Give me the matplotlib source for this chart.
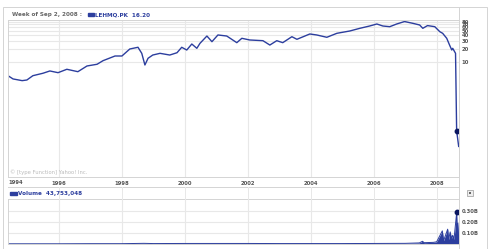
import matplotlib
matplotlib.use("Agg")
import matplotlib.pyplot as plt
from matplotlib.lines import Line2D
from matplotlib.patches import Rectangle
import matplotlib.ticker as mticker

W, H = 490, 249

# price history (decimal year, close)
px_year = [1994.38, 1994.54, 1994.83, 1994.98, 1995.17, 1995.49, 1995.71, 1995.97,
           1996.25, 1996.60, 1996.89, 1997.21, 1997.40, 1997.78, 1998.00, 1998.25,
           1998.51, 1998.63, 1998.73, 1998.83, 1998.98, 1999.21, 1999.52, 1999.75,
           1999.90, 2000.06, 2000.22, 2000.38, 2000.48, 2000.70, 2000.86, 2001.05,
           2001.33, 2001.65, 2001.81, 2002.06, 2002.48, 2002.70, 2002.92, 2003.11,
           2003.40, 2003.56, 2003.97, 2004.19, 2004.51, 2004.83, 2005.24, 2005.56,
           2005.87, 2006.10, 2006.29, 2006.51, 2006.73, 2006.98, 2007.24, 2007.46,
           2007.56, 2007.71, 2007.94, 2008.10, 2008.19, 2008.32, 2008.41, 2008.48,
           2008.51, 2008.60, 2008.635, 2008.70]
px_close = [4.94, 4.18, 3.83, 3.96, 4.94, 5.60, 6.30, 5.77,
            6.87, 6.07, 8.14, 8.89, 10.7, 13.6, 13.6, 19.5,
            21.3, 15.6, 8.57, 12.1, 14.3, 15.6, 14.3, 16.1,
            21.3, 18.5, 25.2, 20.2, 26.1, 38.0, 28.4, 40.1,
            38.0, 27.0, 33.8, 31.0, 29.9, 23.9, 29.9, 27.0,
            36.7, 32.1, 42.2, 40.1, 35.6, 43.7, 49.2, 56.5,
            63.6, 70.5, 63.6, 61.4, 70.5, 80.0, 73.1, 67.0,
            56.5, 65.0, 61.4, 47.5, 43.7, 33.8, 23.9, 18.5,
            20.2, 15.6, 0.29, 0.13]

# volume (decimal year, millions of shares)
vol_year = [1994.38, 1995.0, 1996.0, 1997.0, 1998.0, 1998.7, 1999.0, 2000.0,
            2001.0, 2002.0, 2003.0, 2004.0, 2005.0, 2006.0, 2007.0, 2007.45,
            2007.55, 2007.6, 2007.9, 2008.0, 2008.18, 2008.22, 2008.35, 2008.38,
            2008.43, 2008.47, 2008.51, 2008.55, 2008.635, 2008.66, 2008.675, 2008.70]
vol_mil = [2, 2, 2, 3, 3, 6, 4, 5,
           5, 5, 4, 4, 4, 5, 6, 10,
           25, 12, 15, 20, 120, 30, 135, 40,
           110, 50, 80, 40, 285, 60, 190, 44]

price_ticks = [10, 20, 30, 40, 50, 60, 70, 80]
vol_ticks = [0.1e9, 0.2e9, 0.3e9]
vol_labels = ["0.10B", "0.20B", "0.30B"]
years = [1996, 1998, 2000, 2002, 2004, 2006, 2008]

blue = "#2c3e9e"
navy = "#0a1660"
grid = "#e8e8e8"
edge = "#d4d4d4"
txt = "#555555"
tick_fs = 3.8
head_fs = 4.1


def rect(l, t, r, b):
    return [l / W, 1 - b / H, (r - l) / W, (b - t) / H]


def hline(y, x0, x1, c=edge):
    fig.add_artist(Line2D([x0 / W, x1 / W], [1 - y / H, 1 - y / H], color=c, lw=0.7))


def vline(x, y0, y1, c=edge):
    fig.add_artist(Line2D([x / W, x / W], [1 - y0 / H, 1 - y1 / H], color=c, lw=0.7))


fig = plt.figure(figsize=(W / 100, H / 100), dpi=100)
fig.patch.set_facecolor("white")

x0, x1 = 1994.38, 2008.71

# main price panel
ax = fig.add_axes(rect(8, 20, 459, 177))
ax.plot(px_year, px_close, color=blue, lw=1.0)
ax.plot([2008.635], [0.29], "o", color=navy, ms=3.2)
ax.set_yscale("log")
ax.set_ylim(0.027, 86.6)
ax.set_xlim(x0, x1)
ax.yaxis.set_major_locator(mticker.FixedLocator(price_ticks))
ax.yaxis.set_minor_locator(mticker.NullLocator())
ax.yaxis.set_major_formatter(mticker.FixedFormatter([str(v) for v in price_ticks]))
ax.yaxis.tick_right()
ax.set_xticks(years)
ax.set_xticklabels([str(y) for y in years])
ax.tick_params(axis="y", length=0, pad=2, labelsize=tick_fs, labelcolor=txt)
ax.tick_params(axis="x", length=0, pad=3.2, labelsize=tick_fs, labelcolor=txt)
for lab in ax.get_xticklabels() + ax.get_yticklabels():
    lab.set_fontweight("bold")
ax.grid(True, color=grid, lw=0.8)
ax.set_axisbelow(True)
for s in ax.spines.values():
    s.set_color(edge)
    s.set_linewidth(0.7)
ax.text(0.0, -0.022, "1994", transform=ax.transAxes, ha="left", va="top",
        fontsize=tick_fs, fontweight="bold", color=txt)

# volume panel
av = fig.add_axes(rect(8, 199, 459, 244))
vol = [v * 1e6 for v in vol_mil]
av.fill_between(vol_year, vol, 0, color=blue, lw=0)
av.plot(vol_year, vol, color=blue, lw=0.7)
av.plot([2008.635], [0.29e9], "o", color=navy, ms=3.2)
av.set_xlim(x0, x1)
av.set_ylim(0, 0.41e9)
av.set_yticks(vol_ticks)
av.set_yticklabels(vol_labels)
av.yaxis.tick_right()
av.set_xticks(years)
av.set_xticklabels([])
av.tick_params(axis="y", length=0, pad=2, labelsize=tick_fs, labelcolor=txt)
av.tick_params(axis="x", length=0)
for lab in av.get_yticklabels():
    lab.set_fontweight("bold")
av.grid(True, color=grid, lw=0.8)
av.set_axisbelow(True)
for s in av.spines.values():
    s.set_color(edge)
    s.set_linewidth(0.7)

# widget frame and separators
fig.add_artist(Rectangle((3 / W, 0), (487 - 3) / W, 1 - 7 / H, transform=fig.transFigure,
                         fill=False, ec=edge, lw=0.7))
hline(187, 8, 459)
hline(20, 8, 459)
vline(459, 7, 249)
for y in years:
    xp = 8 + (y - x0) / (x1 - x0) * 451
    vline(xp, 187, 199, c=grid)

# header texts
fig.text(12 / W, 1 - 14.5 / H, "Week of Sep 2, 2008 :", fontsize=head_fs, fontweight="bold",
         color="#666666", va="center")
fig.add_artist(Rectangle((88 / W, 1 - 16 / H), 6 / W, 2.5 / H, transform=fig.transFigure,
                         color=blue))
fig.text(95 / W, 1 - 14.5 / H, "LEHMQ.PK  16.20", fontsize=head_fs, fontweight="bold",
         color=blue, va="center")
fig.add_artist(Rectangle((10 / W, 1 - 194.5 / H), 7 / W, 2.5 / H, transform=fig.transFigure,
                         color=blue))
fig.text(18 / W, 1 - 193.5 / H, "Volume  43,753,048", fontsize=head_fs, fontweight="bold",
         color=blue, va="center")
fig.text(10 / W, 1 - 172.5 / H, "\u00a9 [type Function] Yahoo! Inc.", fontsize=3.8,
         color="#bbbbbb", va="center")

# close button
fig.add_artist(Rectangle((467 / W, 1 - 196 / H), 6 / W, 6 / H, transform=fig.transFigure,
                         fc="#eeeeee", ec="#999999", lw=0.5))
fig.add_artist(Rectangle((469 / W, 1 - 194 / H), 2 / W, 2 / H, transform=fig.transFigure,
                         fc="#666666", lw=0))

fig.savefig("out.png", dpi=100)
